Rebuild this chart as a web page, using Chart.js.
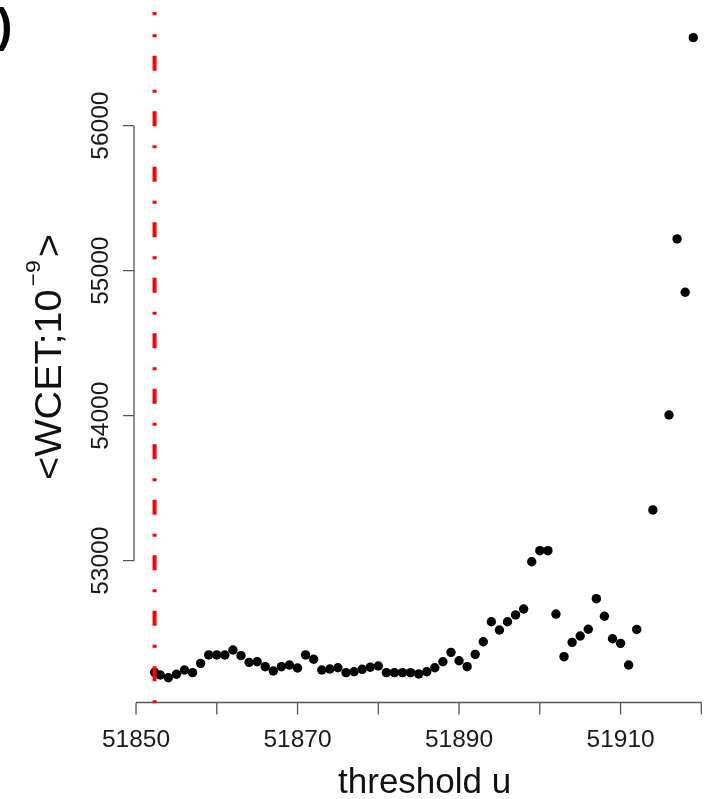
<!DOCTYPE html>
<html>
<head>
<meta charset="utf-8">
<script src="https://cdn.jsdelivr.net/npm/chart.js@4/dist/chart.umd.min.js"></script>
<style>
  body { margin: 0; background: #fff; }
  #wrap { width: 720px; height: 799px; }
</style>
</head>
<body>
<div id="wrap"><canvas id="graficoWcet" width="720" height="799"></canvas></div>
<script>
// threshold u (x) and <WCET;10^-9> (y)
const thresholds = [51852.3, 51853, 51854, 51855, 51856, 51857, 51858, 51859, 51860, 51861,
  51862, 51863, 51864, 51865, 51866, 51867, 51868, 51869, 51870, 51871,
  51872, 51873, 51874, 51875, 51876, 51877, 51878, 51879, 51880, 51881,
  51882, 51883, 51884, 51885, 51886, 51887, 51888, 51889, 51890, 51891,
  51892, 51893, 51894, 51895, 51896, 51897, 51898, 51899, 51900, 51901,
  51902, 51903, 51904, 51905, 51906, 51907, 51908, 51909, 51910, 51911,
  51912, 51914, 51916, 51917, 51918, 51919];
const wcetValues = [52230, 52212, 52193, 52217, 52246, 52228, 52292, 52350, 52350, 52350,
  52384, 52345, 52299, 52303, 52269, 52239, 52269, 52281, 52260, 52350,
  52320, 52246, 52253, 52262, 52228, 52234, 52251, 52265, 52274, 52228,
  52228, 52228, 52228, 52219, 52234, 52262, 52303, 52368, 52310, 52269,
  52354, 52441, 52579, 52522, 52579, 52626, 52667, 52993, 53069, 53069,
  52632, 52338, 52437, 52481, 52527, 52738, 52617, 52462, 52430, 52281,
  52526, 53350, 54005, 55219, 54851, 56607];
const chosenThreshold = 51852.3;

const xTicks = [51850, 51860, 51870, 51880, 51890, 51900, 51910, 51920];
const xTickLabels = [51850, 51870, 51890, 51910];
const yTicks = [53000, 54000, 55000, 56000];

const FONT = '"Liberation Sans", Arial, Helvetica, sans-serif';

// R-style axes, titles and the dot-dash threshold line
const eixosR = {
  id: 'eixosR',
  afterDatasetsDraw(chart) {
    const ctx = chart.ctx;
    const area = chart.chartArea;
    const sx = chart.scales.x;
    const sy = chart.scales.y;

    ctx.save();
    ctx.strokeStyle = '#555';
    ctx.lineWidth = 1.3;
    ctx.fillStyle = '#1a1a1a';

    // x axis
    const y0 = area.bottom + 0.5;
    ctx.beginPath();
    ctx.moveTo(sx.getPixelForValue(xTicks[0]), y0);
    ctx.lineTo(sx.getPixelForValue(xTicks[xTicks.length - 1]), y0);
    xTicks.forEach(t => {
      const px = sx.getPixelForValue(t);
      ctx.moveTo(px, y0);
      ctx.lineTo(px, y0 + 12);
    });
    ctx.stroke();
    ctx.font = '24.5px ' + FONT;
    ctx.textAlign = 'center';
    ctx.textBaseline = 'alphabetic';
    xTickLabels.forEach(t => ctx.fillText(String(t), sx.getPixelForValue(t), 747));

    // y axis
    const x0 = area.left;
    ctx.beginPath();
    ctx.moveTo(x0, sy.getPixelForValue(yTicks[0]));
    ctx.lineTo(x0, sy.getPixelForValue(yTicks[yTicks.length - 1]));
    yTicks.forEach(t => {
      const py = sy.getPixelForValue(t);
      ctx.moveTo(x0, py);
      ctx.lineTo(x0 - 11, py);
    });
    ctx.stroke();
    yTicks.forEach(t => {
      ctx.save();
      ctx.translate(108.3, sy.getPixelForValue(t));
      ctx.rotate(-Math.PI / 2);
      ctx.fillText(String(t), 0, 0);
      ctx.restore();
    });

    // x title
    ctx.fillStyle = '#111';
    ctx.font = '35px ' + FONT;
    ctx.fillText('threshold u', (area.left + area.right) / 2, 793);

    // y title  <WCET;10^-9>, a bit wider than the plain font
    const main = '<WCET;10', sup = '\u22129', end = '>';
    const stretch = 1.1;
    ctx.font = '36px ' + FONT;
    const w1 = ctx.measureText(main).width;
    const w3 = ctx.measureText(end).width;
    ctx.font = '21px ' + FONT;
    const w2 = ctx.measureText(sup).width;
    const gap = 3 / stretch;
    const total = (w1 + gap + w2 + gap + w3) * stretch;
    ctx.save();
    ctx.translate(61, (area.top + area.bottom) / 2 + total / 2);
    ctx.rotate(-Math.PI / 2);
    ctx.scale(stretch, 1);
    ctx.textAlign = 'left';
    ctx.font = '36px ' + FONT;
    ctx.fillText(main, 0, 0);
    ctx.font = '21px ' + FONT;
    ctx.fillText(sup, w1 + gap, -21);
    ctx.font = '36px ' + FONT;
    ctx.fillText(end, w1 + gap + w2 + gap, 0);
    ctx.restore();

    // panel label, cut at the left edge
    ctx.font = 'bold 46px ' + FONT;
    ctx.textAlign = 'left';
    ctx.fillStyle = '#000';
    ctx.fillText(')', -3, 41);

    // red dot-dash line at the chosen threshold
    ctx.beginPath();
    ctx.rect(area.left, area.top, area.right - area.left, area.bottom - area.top + 2);
    ctx.clip();
    const xr = sx.getPixelForValue(chosenThreshold);
    ctx.strokeStyle = '#ff0000';
    ctx.lineWidth = 4;
    ctx.setLineDash([3, 19, 15, 18.5]);
    ctx.beginPath();
    ctx.moveTo(xr, area.bottom + 1.2);
    ctx.lineTo(xr, area.top - 5);
    ctx.stroke();
    ctx.restore();
  }
};

const grafico = document.getElementById('graficoWcet');

const graficoWcet = new Chart(grafico, {
  type: 'scatter',
  data: {
    datasets: [{
      label: 'WCET',
      data: thresholds.map((t, i) => ({ x: t, y: wcetValues[i] })),
      backgroundColor: '#000',
      borderWidth: 0,
      pointRadius: 4.7,
      pointHoverRadius: 4.7
    }]
  },
  options: {
    responsive: false,
    animation: false,
    devicePixelRatio: 1,
    layout: { padding: { left: 134, right: 2, top: 12, bottom: 97 } },
    plugins: { legend: { display: false }, tooltip: { enabled: false } },
    scales: {
      x: { type: 'linear', display: false, min: 51849.75, max: 51921.73 },
      y: { type: 'linear', display: false, min: 52025.5, max: 56784 }
    }
  },
  plugins: [eixosR]
});
</script>
</body>
</html>
